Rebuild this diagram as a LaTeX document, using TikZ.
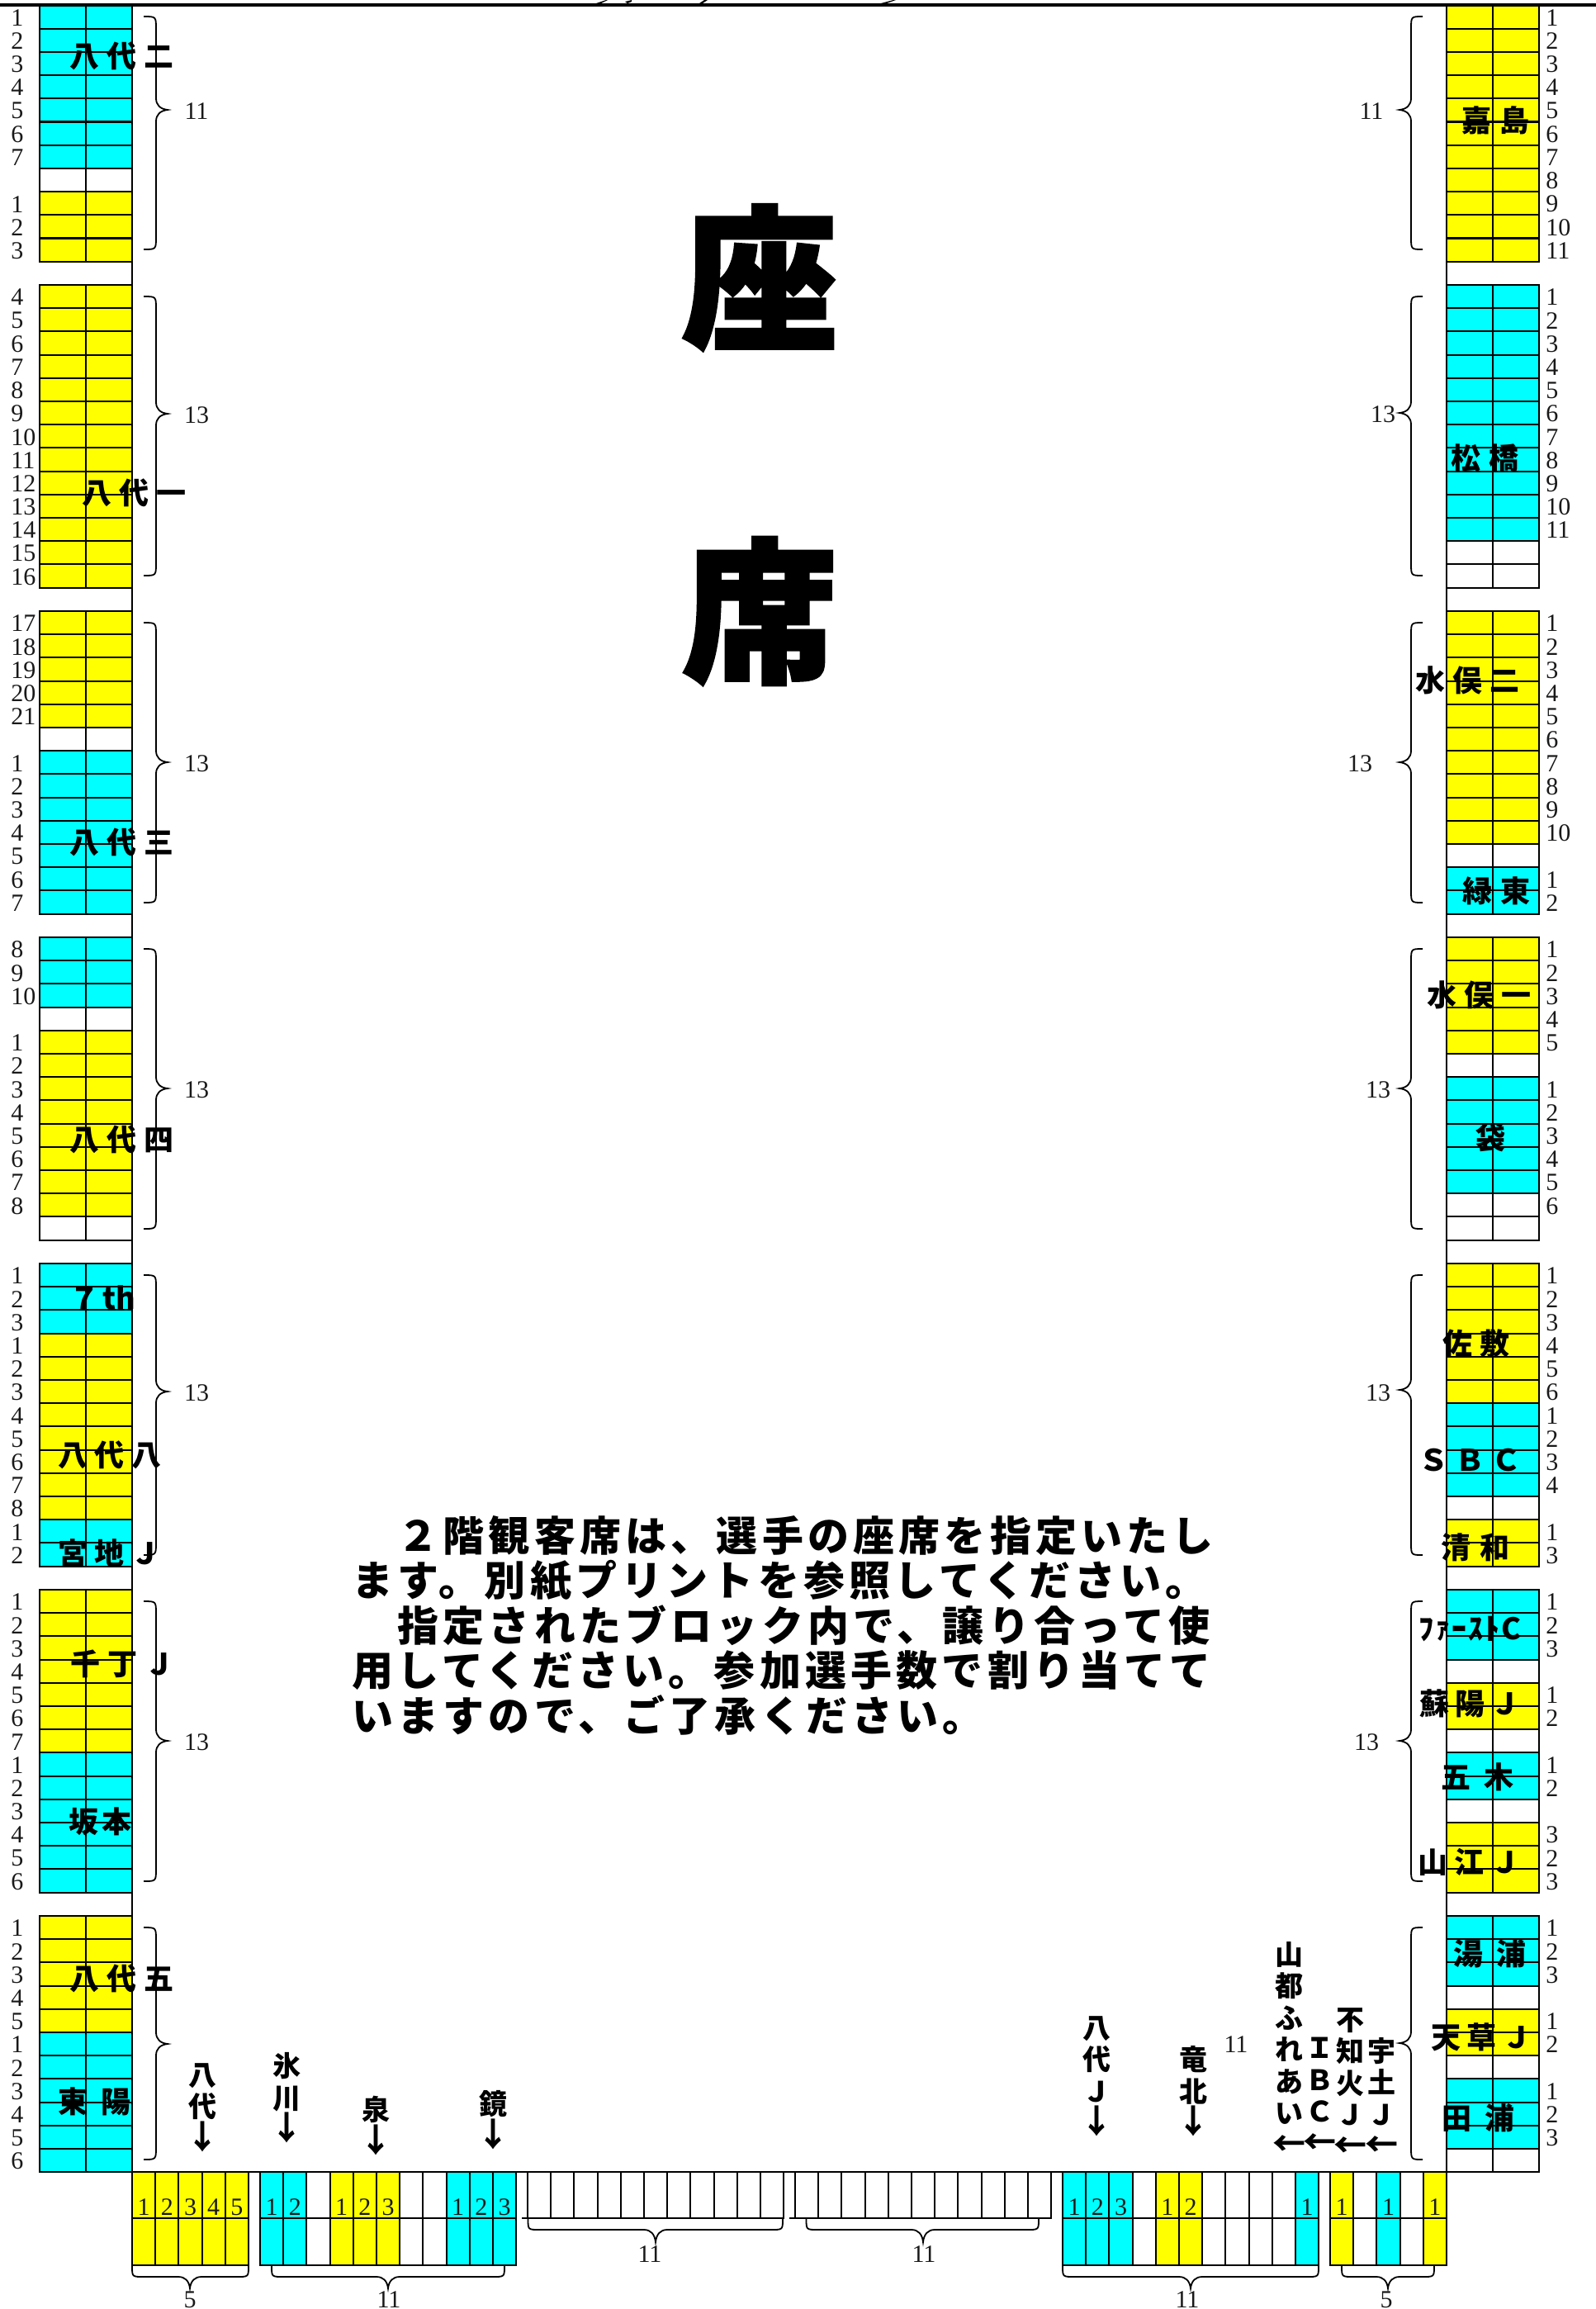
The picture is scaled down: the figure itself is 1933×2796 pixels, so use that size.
\documentclass[tikz,border=0pt]{standalone}
\usepackage{fontspec}
\setmainfont{Liberation Serif}
\newfontfamily\jp{Noto Sans CJK JP}
\definecolor{C}{RGB}{0,255,255}
\definecolor{Y}{RGB}{255,255,0}
\definecolor{W}{RGB}{255,255,255}
\tikzset{
  cell/.style={draw=black,line width=1.05pt},
  digit/.style={inner sep=0pt,font=\fontsize{15}{15}\selectfont,text=black!90},
  digitw/.style={digit,anchor=west},
  br/.style={draw=black,line width=0.9pt},
  jlab/.style={inner sep=0pt,anchor=west,font=\jp\bfseries\fontsize{18}{18}\selectfont},
  vlab/.style={inner sep=0pt,anchor=north,align=center,font=\jp\bfseries\fontsize{17}{19.25}\selectfont},
  para/.style={inner sep=0pt,anchor=west,font=\jp\bfseries\fontsize{25}{25}\selectfont},
  big/.style={inner sep=0pt,font=\jp\bfseries\fontsize{94}{94}\selectfont}
}
\newcommand{\arw}[1]{{\fontsize{20}{19.25}\selectfont #1}}
\newcommand{\vblock}[4]{%
  \foreach \colr/\lbl [count=\i from 0] in {#4} {%
    \pgfmathsetmacro{\yy}{#2+\i*28.2}
    \draw[cell,fill=\colr] (#1,\yy) rectangle ++(56,28.2);
    \draw[cell,fill=\colr] (#1+56,\yy) rectangle ++(56,28.2);
    \ifx\lbl\empty\else\node[digitw] at (#3,\yy+15) {\lbl};\fi
  }}
\newcommand{\hblock}[3]{%
  \foreach \colr/\lbl [count=\i from 0] in {#2} {%
    \pgfmathsetmacro{\xx}{#1+\i*28.2}
    \draw[cell,fill=\colr] (\xx,2630) rectangle ++(28.2,56);
    \ifnum#3=1 \draw[cell,fill=\colr] (\xx,2686) rectangle ++(28.2,56.7);\fi
    \ifx\lbl\empty\else\node[digit] at (\xx+14.1,2673) {\lbl};\fi
  }}
\newcommand{\vbr}[6]{%
  \draw[br] (#1,#4) .. controls (#2,#4) .. (#2,#4+15) -- (#2,#5-14)
    .. controls (#2,#5-6) and ({#2+0.35*(#3-#2)},#5-1) .. (#3,#5)
    .. controls ({#2+0.35*(#3-#2)},#5+1) and (#2,#5+6) .. (#2,#5+14)
    -- (#2,#6-15) .. controls (#2,#6) .. (#1,#6);}
\newcommand{\hbr}[6]{%
  \draw[br] (#1,#4) .. controls (#1,#5) .. (#1+14,#5) -- (#3-14,#5)
    .. controls (#3-6,#5) and (#3-1,{#5+0.35*(#6-#5)}) .. (#3,#6)
    .. controls (#3+1,{#5+0.35*(#6-#5)}) and (#3+6,#5) .. (#3+14,#5)
    -- (#2-14,#5) .. controls (#2,#5) .. (#2,#4);}
\newcommand{\jl}[4]{%
  \pgfmathsetmacro{\ls}{(#3-36)/36*100}
  \node[jlab] at (#1,#2) {\addfontfeature{LetterSpace=\ls}#4};}
\begin{document}
\begin{tikzpicture}[x=0.5pt,y=-0.5pt]
\useasboundingbox[fill=white] (0,0) rectangle (1933,2796);
% left column
\vblock{48}{6.5}{13}{C/1,C/2,C/3,C/4,C/5,C/6,C/7,W/,Y/1,Y/2,Y/3}
\vblock{48}{345}{13}{Y/4,Y/5,Y/6,Y/7,Y/8,Y/9,Y/10,Y/11,Y/12,Y/13,Y/14,Y/15,Y/16}
\vblock{48}{740}{13}{Y/17,Y/18,Y/19,Y/20,Y/21,W/,C/1,C/2,C/3,C/4,C/5,C/6,C/7}
\vblock{48}{1135}{13}{C/8,C/9,C/10,W/,Y/1,Y/2,Y/3,Y/4,Y/5,Y/6,Y/7,Y/8,W/}
\vblock{48}{1530}{13}{C/1,C/2,C/3,Y/1,Y/2,Y/3,Y/4,Y/5,Y/6,Y/7,Y/8,C/1,C/2}
\vblock{48}{1925}{13}{Y/1,Y/2,Y/3,Y/4,Y/5,Y/6,Y/7,C/1,C/2,C/3,C/4,C/5,C/6}
\vblock{48}{2320}{13}{Y/1,Y/2,Y/3,Y/4,Y/5,C/1,C/2,C/3,C/4,C/5,C/6}
% right column
\vblock{1752}{6.5}{1872}{Y/1,Y/2,Y/3,Y/4,Y/5,Y/6,Y/7,Y/8,Y/9,Y/10,Y/11}
\vblock{1752}{345}{1872}{C/1,C/2,C/3,C/4,C/5,C/6,C/7,C/8,C/9,C/10,C/11,W/,W/}
\vblock{1752}{740}{1872}{Y/1,Y/2,Y/3,Y/4,Y/5,Y/6,Y/7,Y/8,Y/9,Y/10,W/,C/1,C/2}
\vblock{1752}{1135}{1872}{Y/1,Y/2,Y/3,Y/4,Y/5,W/,C/1,C/2,C/3,C/4,C/5,W/6,W/}
\vblock{1752}{1530}{1872}{Y/1,Y/2,Y/3,Y/4,Y/5,Y/6,C/1,C/2,C/3,C/4,W/,Y/1,Y/3}
\vblock{1752}{1925}{1872}{C/1,C/2,C/3,W/,Y/1,Y/2,W/,C/1,C/2,W/,Y/3,Y/2,Y/3}
\vblock{1752}{2320}{1872}{C/1,C/2,C/3,W/,Y/1,Y/2,W/,C/1,C/2,C/3,W/}
% bottom row
\hblock{160}{Y/1,Y/2,Y/3,Y/4,Y/5}{1}
\hblock{315}{C/1,C/2,W/,Y/1,Y/2,Y/3,W/,W/,C/1,C/2,C/3}{1}
\hblock{639}{W/,W/,W/,W/,W/,W/,W/,W/,W/,W/,W/}{0}
\hblock{963}{W/,W/,W/,W/,W/,W/,W/,W/,W/,W/,W/}{0}
\hblock{1287}{C/1,C/2,C/3,W/,Y/1,Y/2,W/,W/,W/,W/,C/1}{1}
\hblock{1611}{Y/1,W/,C/1,W/,Y/1}{1}
\draw[cell] (632,2686) -- (950,2686);
\draw[cell] (956,2686) -- (1273,2686);
% frame
\draw[line width=2pt] (0,6) -- (1933,6);
\draw[cell] (160,6) -- (160,2630) -- (1752,2630);
\draw[cell] (1752,6) -- (1752,2743);
% fragments of clipped lettering above the top line
\fill (722,4) -- (734,0) -- (736,0) -- (728,4) -- cycle;
\fill (757,2) -- (765,0) -- (765,2) -- (760,4) -- cycle;
\fill (847,4) -- (853,0) -- (857,0) -- (851,4) -- cycle;
\fill (1067,4) -- (1082,0) -- (1085,0) -- (1074,4) -- cycle;
% left braces
\vbr{174}{189}{203}{20}{133}{302}
\vbr{174}{189}{203}{359}{501}{697}
\vbr{174}{189}{203}{754}{923}{1093}
\vbr{174}{189}{203}{1149}{1318}{1488}
\vbr{174}{189}{203}{1544}{1685}{1883}
\vbr{174}{189}{203}{1939}{2108}{2278}
\vbr{174}{189}{203}{2334}{2475}{2615}
\foreach \yl/\tl in {135/11,503/13,925/13,1320/13,1687/13,2110/13}
  \node[digit] at (238,\yl) {\tl};
\node[digit] at (1497,2476) {11};
% right braces
\vbr{1723}{1709}{1695}{20}{133}{302}
\vbr{1723}{1709}{1695}{359}{500}{697}
\vbr{1723}{1709}{1695}{754}{923}{1093}
\vbr{1723}{1709}{1695}{1149}{1318}{1488}
\vbr{1723}{1709}{1695}{1544}{1683}{1883}
\vbr{1723}{1709}{1695}{1939}{2108}{2278}
\vbr{1723}{1709}{1695}{2334}{2474}{2615}
\node[digit] at (1661,135) {11};
\foreach \xl/\yl in {1675/502,1647/925,1669/1320,1669/1687,1655/2110}
  \node[digit] at (\xl,\yl) {13};
% bottom braces
\hbr{160}{301}{230}{2744}{2757}{2771}
\hbr{329}{611}{470}{2744}{2757}{2771}
\hbr{639.5}{948}{794}{2687}{2700}{2715}
\hbr{976.5}{1258}{1118}{2687}{2700}{2715}
\hbr{1287}{1597}{1442}{2744}{2757}{2771}
\hbr{1625}{1737}{1681}{2744}{2757}{2771}
\node[digit] at (230,2785) {5};
\node[digit] at (471,2785) {11};
\node[digit] at (787,2730) {11};
\node[digit] at (1119,2730) {11};
\node[digit] at (1438,2785) {11};
\node[digit] at (1679,2785) {5};
% left labels
\jl{84}{68}{45}{八代二}
\jl{99}{597}{45}{八代一}
\jl{84}{1020}{45}{八代三}
\jl{84}{1380}{45}{八代四}
\jl{84}{1571}{36}{７\hspace{2pt}th}
\jl{70}{1762}{44.5}{八代八}
\jl{70}{1881}{44}{宮地Ｊ}
\jl{85}{2015}{45}{千丁Ｊ}
\jl{83}{2206}{40}{坂本}
\jl{84}{2396}{45}{八代五}
\jl{70}{2545}{52}{東陽}
% right labels
\jl{1770}{146}{46}{嘉島}
\jl{1757}{555}{46}{松橋}
\jl{1714}{824}{45}{水俣二}
\jl{1771}{1079}{46}{緑東}
\jl{1728}{1205}{45}{水俣一}
\jl{1787}{1378}{45}{袋}
\jl{1747}{1627}{45}{佐敷}
\jl{1718}{1768}{44}{ＳＢＣ}
\jl{1745}{1874}{47}{清和}
\jl{1718}{1973}{38}{ﾌｧｰｽﾄC}
\jl{1719}{2063}{43}{蘇陽Ｊ}
\jl{1745}{2152}{52}{五木}
\jl{1717}{2255}{44}{山江Ｊ}
\jl{1760}{2366}{52}{湯浦}
\jl{1733}{2467}{43}{天草Ｊ}
\jl{1746}{2565}{52}{田浦}
% vertical labels with arrows
\node[vlab] at (245,2498) {八\\代\\\arw{↓}};
\node[vlab] at (347,2485) {氷\\川\\\arw{↓}};
\node[vlab] at (455,2538) {泉\\\arw{↓}};
\node[vlab] at (597,2531) {鏡\\\arw{↓}};
\node[vlab] at (1328,2441) {八\\代\\Ｊ\\\arw{↓}};
\node[vlab] at (1445,2477) {竜\\北\\\arw{↓}};
\node[vlab] at (1561,2351) {山\\都\\ふ\\れ\\あ\\い\\\arw{←}};
\node[vlab] at (1598,2467) {Ｉ\\Ｂ\\Ｃ\\\arw{←}};
\node[vlab] at (1635,2431) {不\\知\\火\\Ｊ\\\arw{←}};
\node[vlab] at (1673,2467) {宇\\土\\Ｊ\\\arw{←}};
% paragraph
\node[para] at (426,1860) {\addfontfeature{LetterSpace=10.4}　２階観客席は、選手の座席を指定いたし};
\node[para] at (426,1914) {\addfontfeature{LetterSpace=10.4}ます。別紙プリントを参照してください。};
\node[para] at (426,1968) {\addfontfeature{LetterSpace=10.4}　指定されたブロック内で、譲り合って使};
\node[para] at (426,2023) {\addfontfeature{LetterSpace=10.4}用してください。参加選手数で割り当てて};
\node[para] at (426,2077) {\addfontfeature{LetterSpace=10.4}いますので、ご了承ください。};
% title
\node[big] at (920,336) {\addfontfeature{FakeBold=2}座};
\node[big] at (920,740) {\addfontfeature{FakeBold=2}席};
\end{tikzpicture}
\end{document}
